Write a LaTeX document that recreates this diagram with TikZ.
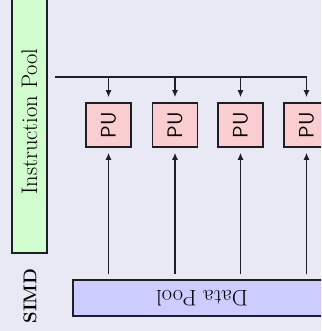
\documentclass[tikz,border=0pt]{standalone}
\usetikzlibrary{arrows.meta}
\definecolor{bgc}{RGB}{233,233,245}
\definecolor{greenc}{RGB}{208,252,206}
\definecolor{pinkc}{RGB}{250,206,208}
\definecolor{purplec}{RGB}{204,204,255}
\definecolor{edgec}{RGB}{30,30,40}
\tikzset{
  bigtext/.style={font=\fontsize{22.5}{26}\selectfont},
  pubox/.style={draw=edgec, line width=1.5pt, fill=pinkc, minimum width=45pt, minimum height=44pt, inner sep=0pt, font=\sffamily\fontsize{21}{25}\selectfont},
  poolbox/.style={draw=edgec, line width=1.5pt, inner sep=0pt, bigtext},
  conn/.style={line width=1.4pt, draw=edgec},
  arr/.style={conn, -{Latex[length=7pt,width=6pt]}},
}
\begin{document}
\begin{tikzpicture}[x=1pt,y=-1pt]
\fill[bgc] (0,0) rectangle (321,331);
\useasboundingbox (0,0) rectangle (321,331);
\clip (0,0) rectangle (321,331);
% Instruction pool
\node[poolbox, fill=greenc, minimum width=35pt, minimum height=263pt] (ip) at (29.5,121.5) {\rotatebox{90}{Instruction Pool}};
% SIMD label
\node[font=\fontsize{18.5}{22}\selectfont\bfseries, inner sep=0pt] (simd) at (30,296) {\rotatebox{90}{SIMD}};
% Data pool
\node[poolbox, fill=purplec, minimum width=258pt, minimum height=36pt] (dp) at (202,298) {\rotatebox{180}{Data Pool}};
% PUs
\node[pubox] (pu1) at (108.5,125) {\rotatebox{90}{PU}};
\node[pubox] (pu2) at (175,125) {\rotatebox{90}{PU}};
\node[pubox] (pu3) at (240.5,125) {\rotatebox{90}{PU}};
\node[pubox] (pu4) at (306.5,125) {\rotatebox{90}{PU}};
% bus
\coordinate (busL) at (55,77);
\draw[arr, shorten >=5pt] (busL) -| (pu4.north);
\foreach \p in {pu1,pu2,pu3}{
  \draw[arr, shorten >=5pt] (\p.north |- busL) -- (\p.north);
}
\foreach \p in {pu1,pu2,pu3,pu4}{
  \draw[arr, shorten >=5pt, shorten <=5pt] (\p.south |- dp.north) -- (\p.south);
}
\end{tikzpicture}
\end{document}
